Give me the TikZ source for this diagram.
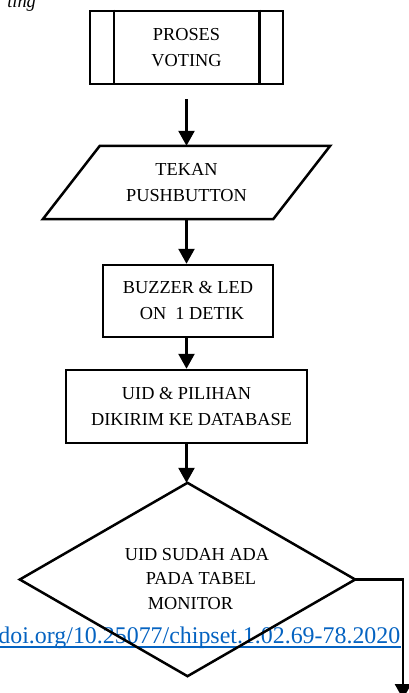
\documentclass[tikz,border=0pt]{standalone}
\usepackage{fontspec}
\setmainfont{Liberation Serif}
\usetikzlibrary{arrows.meta,calc}
\definecolor{linkblue}{HTML}{0563C1}
\newcommand{\fcfont}{\fontsize{18.3}{26}\selectfont}
\begin{document}
\begin{tikzpicture}[x=1pt,y=-1pt,
  ln/.style={line width=2.5pt, line join=miter},
  shapebox/.style={draw, line width=2.5pt, rectangle, inner sep=0pt, align=center, font=\fcfont},
  ghost/.style={rectangle, inner sep=0pt, align=center, font=\fcfont},
  arr/.style={line width=2.5pt, line join=miter, -{Triangle[width=16pt,length=15pt]}}]
\useasboundingbox (0,0) rectangle (409,693);
\clip (0,0) rectangle (409,693);

% caption remnant
\node[anchor=base east, inner sep=0pt, font=\fontsize{18.3}{22}\selectfont\itshape] (cap) at (36,8) {ting};

% predefined process
\node[shapebox, minimum width=193, minimum height=73] (pv) at (186.5,47.5) {PROSES\\VOTING};
\draw[ln] ($(pv.north west)+(25,0)$) -- ($(pv.south west)+(25,0)$);
\draw[ln] ($(pv.north east)+(-25,0)$) -- ($(pv.south east)+(-25,0)$);
\coordinate (pvout) at (186.5,99);

% input parallelogram
\node[ghost, minimum width=230, minimum height=73] (par) at (186.5,182.5) {TEKAN\\PUSHBUTTON};
\draw[ln] ($(par.north west)+(28.5,0)$) -- ($(par.north east)+(28.5,0)$) -- ($(par.south east)+(-28.5,0)$) -- ($(par.south west)+(-28.5,0)$) -- cycle;

% process boxes
\node[shapebox, minimum width=170, minimum height=72] (buz) at (188,301) {BUZZER \& LED\\\hspace*{8pt}ON\hspace{0.5em}1 DETIK};
\node[shapebox, minimum width=241, minimum height=73] (uid) at (186.5,406.5) {UID \& PILIHAN\\\hspace*{10pt}DIKIRIM KE DATABASE};

% link text (behind diamond)
\node[anchor=base east, inner sep=0pt, text=linkblue, font=\fontsize{23.9}{26}\selectfont] (doi) at (400.5,643) {doi.org/10.25077/chipset.1.02.69-78.2020};
\draw[linkblue, line width=1.3pt] ($(doi.base west)+(0,4)$) -- ($(doi.base east)+(0,4)$);

% decision diamond
\node[ghost, minimum width=335, minimum height=193] (dia) at (187.5,579.5) {};
\draw[ln] (dia.north) -- (dia.east) -- (dia.south) -- (dia.west) -- cycle;
\node[ghost, font=\fontsize{18.3}{24.5}\selectfont] (diat) at (197,579) {UID SUDAH ADA\\\hspace*{8pt}PADA TABEL\\MONITOR\hspace*{13pt}};

% connectors
\draw[arr] (pvout) -- (pvout |- par.north);
\draw[arr] (par.south) -- (par.south |- buz.north);
\draw[arr] (uid.north |- buz.south) -- (uid.north);
\draw[arr] (uid.south) -- (uid.south |- dia.north);
\coordinate (rtop) at (403,579.5);
\coordinate (rend) at (403,699);
\draw[arr] (dia.east) -- (rtop) -- (rend);
\end{tikzpicture}
\end{document}
